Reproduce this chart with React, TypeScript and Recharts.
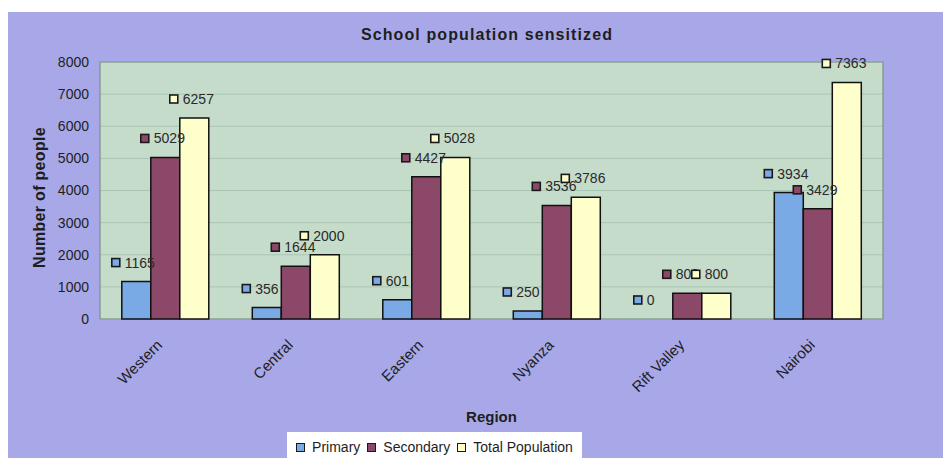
import { BarChart, Bar, Cell, XAxis, YAxis, CartesianGrid, Legend, ReferenceArea } from 'recharts';

const regions = ['Western', 'Central', 'Eastern', 'Nyanza', 'Rift Valley', 'Nairobi'];
const primary = [1165, 356, 601, 250, 0, 3934];
const secondary = [5029, 1644, 4427, 3536, 800, 3429];
const totalPopulation = [6257, 2000, 5028, 3786, 800, 7363];
const yTicks = [0, 1000, 2000, 3000, 4000, 5000, 6000, 7000, 8000];

const data = regions.map((region, i) => ({
  region,
  primary: primary[i],
  secondary: secondary[i],
  total: totalPopulation[i],
}));

const series = [
  { key: 'primary', name: 'Primary', color: '#7aaae6', values: primary },
  { key: 'secondary', name: 'Secondary', color: '#8c4868', values: secondary },
  { key: 'total', name: 'Total Population', color: '#ffffcc', values: totalPopulation },
];

const FONT = '"Liberation Sans", Arial, sans-serif';
const INK = '#1e1e1e';

// little legend-key square + value, sitting above-left of each bar
const valueLabel = (color: string) => (props: any) => {
  const { x, y, value } = props;
  const cy = y - 19;
  return (
    <g>
      <rect x={x - 10} y={cy - 4} width={8} height={8} fill={color} stroke="#1a1a1a" strokeWidth={1.6} />
      <text x={x + 3} y={cy} dominantBaseline="central" fontSize={14} fill="#2a2a2a" fontFamily={FONT}>
        {String(value)}
      </text>
    </g>
  );
};

const RegionTick = (props: any) => {
  const { x, y, payload } = props;
  return (
    <g transform={`translate(${x - 2},${y + 19}) rotate(-45)`}>
      <text textAnchor="end" fontSize={15} fill={INK} fontFamily={FONT}>
        {payload.value}
      </text>
    </g>
  );
};

const YTitle = (props: any) => {
  const { viewBox } = props;
  const cx = viewBox.x + 31;
  const cy = viewBox.y + viewBox.height / 2 + 7;
  return (
    <text
      x={cx}
      y={cy}
      transform={`rotate(-90, ${cx}, ${cy})`}
      textAnchor="middle"
      dominantBaseline="central"
      fontFamily={FONT}
      fontWeight="bold"
      fontSize={16}
      letterSpacing={0.3}
      fill={INK}
    >
      Number of people
    </text>
  );
};

const LegendBox = () => (
  <div
    style={{
      background: '#ffffff',
      height: 30,
      display: 'flex',
      alignItems: 'center',
      justifyContent: 'center',
      gap: 7,
      fontFamily: FONT,
      fontSize: 14,
      color: INK,
    }}
  >
    {series.map((s) => (
      <span key={s.key} style={{ display: 'flex', alignItems: 'center' }}>
        <span
          style={{
            display: 'inline-block',
            width: 7,
            height: 7,
            background: s.color,
            border: '1.6px solid #1a1a1a',
            marginRight: 7,
          }}
        />
        {s.name}
      </span>
    ))}
  </div>
);

export default function App() {
  return (
    <div style={{ width: 943, height: 454, marginBottom: -8 }}>
      <div style={{ marginTop: 4, height: 450, background: '#a8a8e8', position: 'relative' }}>
        <div
          style={{
            position: 'absolute',
            left: 279,
            width: 400,
            top: 14,
            textAlign: 'center',
            fontFamily: FONT,
            fontWeight: 'bold',
            fontSize: 16,
            letterSpacing: 1.1,
            lineHeight: '18px',
            color: INK,
          }}
        >
          School population sensitized
        </div>
        <BarChart
          width={943}
          height={450}
          data={data}
          margin={{ top: 50, right: 68, left: 0, bottom: 0 }}
          barCategoryGap="16.7%"
          barGap={0}
        >
          <CartesianGrid vertical={false} stroke="#a8c6b3" fill="#c6dccb" />
          <XAxis
            dataKey="region"
            axisLine={false}
            tickLine={false}
            tick={<RegionTick />}
            interval={0}
            height={113}
            label={{
              value: 'Region',
              position: 'insideBottom',
              offset: 10,
              style: { fontFamily: FONT, fontWeight: 'bold', fontSize: 15, fill: INK },
            }}
          />
          <YAxis
            domain={[0, 8000]}
            ticks={yTicks}
            width={92}
            axisLine={false}
            tickLine={false}
            tickSize={0}
            tickMargin={11}
            tick={{ fontSize: 14, fill: INK, fontFamily: FONT }}
            label={<YTitle />}
          />
          <Legend
            verticalAlign="bottom"
            content={<LegendBox />}
            wrapperStyle={{ left: 279, width: 295, bottom: 0 }}
          />
          {series.map((s) => (
            <Bar
              key={s.key}
              dataKey={s.key}
              name={s.name}
              fill={s.color}
              stroke="#111111"
              strokeWidth={1.5}
              isAnimationActive={false}
              minPointSize={(v: number) => (v === 0 ? 0.01 : 0)}
              label={valueLabel(s.color)}
            >
              {s.values.map((v, i) => (
                <Cell key={i} stroke={v === 0 ? 'none' : '#111111'} />
              ))}
            </Bar>
          ))}
          <ReferenceArea y1={0} y2={8000} fill="none" stroke="#7c9286" strokeWidth={1.2} ifOverflow="visible" />
        </BarChart>
      </div>
    </div>
  );
}
